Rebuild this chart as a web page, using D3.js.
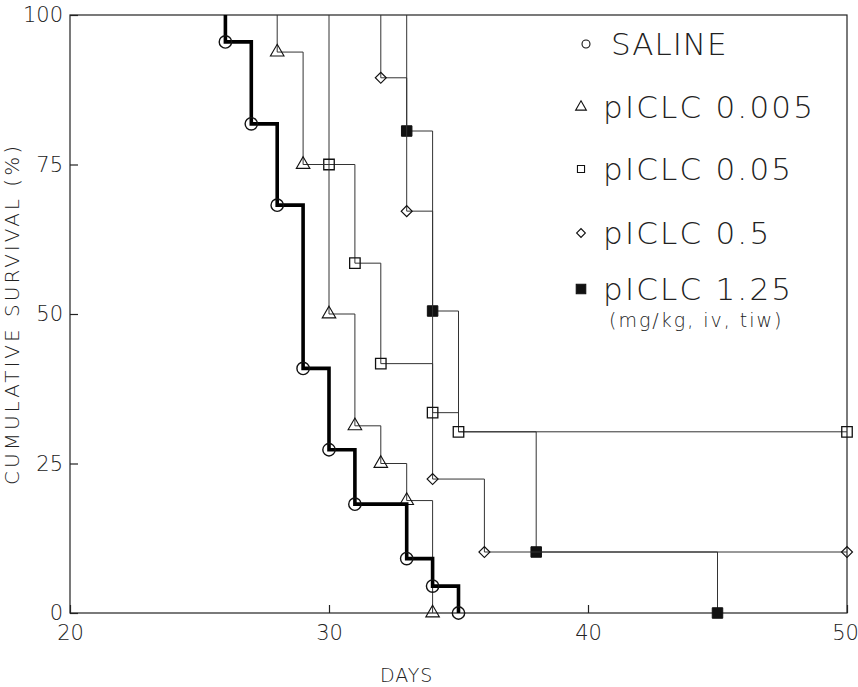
<!DOCTYPE html>
<html>
<head>
<meta charset="utf-8">
<script src="https://cdn.jsdelivr.net/npm/d3@7"></script>
<style>
  body { margin: 0; background: #fff; }
  text { font-family: 'DejaVu Sans', sans-serif; font-stretch: condensed; fill: #222; }
</style>
</head>
<body>
<script>
// survival data (day, cumulative survival %)
const salineDays = [26, 27, 28, 29, 30, 31, 33, 34, 35];
const salineSurv = [95.5, 81.8, 68.2, 40.9, 27.3, 18.2, 9.1, 4.5, 0];

const p005Days = [28, 29, 30, 31, 32, 33, 34];
const p005Surv = [93.8, 75, 50, 31.3, 25, 18.8, 0];

const p05Days = [30, 31, 32, 34, 35, 50];
const p05Surv = [75, 58.5, 41.7, 33.5, 30.3, 30.3];

const p5Days = [32, 33, 34, 36, 50];
const p5Surv = [89.5, 67.2, 22.4, 10.2, 10.2];

const p125Days = [33, 34, 35, 38, 45];
const p125Surv = [80.6, 50.5, 30.3, 10.2, 0];
const p125Marked = [true, true, false, true, true];

const xTicks = [20, 30, 40, 50];
const yTicks = [0, 25, 50, 75, 100];

const legendLabels = ['SALINE', 'pICLC 0.005', 'pICLC 0.05', 'pICLC 0.5', 'pICLC 1.25'];

const margin = { top: 15, right: 11, bottom: 74, left: 70 },
  width = 858 - margin.left - margin.right,
  height = 687 - margin.top - margin.bottom;

const svg = d3.select('body').append('svg')
  .attr('width', 858)
  .attr('height', 687)
  .append('g')
  .attr('transform', `translate(${margin.left},${margin.top})`);

const x = d3.scaleLinear().domain([20, 50]).range([0, width]);
const y = d3.scaleLinear().domain([0, 100]).range([height, 0]);

// frame
svg.append('rect')
  .attr('width', width)
  .attr('height', height)
  .attr('fill', 'none')
  .attr('stroke', '#222')
  .attr('stroke-width', 1.2);

// axes with inward ticks
const xAxis = svg.append('g')
  .attr('transform', `translate(0,${height})`)
  .call(d3.axisBottom(x).tickValues(xTicks).tickSizeInner(-8).tickSizeOuter(0).tickPadding(12));
const yAxis = svg.append('g')
  .call(d3.axisLeft(y).tickValues(yTicks).tickSizeInner(-8).tickSizeOuter(0).tickPadding(7));
[xAxis, yAxis].forEach(a => {
  a.select('.domain').remove();
  a.selectAll('line').attr('stroke', '#222').attr('stroke-width', 1.2);
  a.selectAll('text').style('font-size', '21px').attr('fill', '#222')
    .style('font-family', "'DejaVu Sans', sans-serif").style('font-stretch', 'condensed')
    .style('font-weight', 200);
});
// keep the last x label inside the window
xAxis.selectAll('.tick text').filter(d => d === 50).attr('dx', '-2px');

svg.append('text')
  .attr('x', x(33))
  .attr('y', height + 69)
  .attr('text-anchor', 'middle')
  .style('font-size', '19px')
  .style('font-weight', 200)
  .style('letter-spacing', '1px')
  .text('DAYS');

svg.append('text')
  .attr('transform', `translate(${-51},${height / 2}) rotate(-90)`)
  .attr('text-anchor', 'middle')
  .style('font-size', '20px')
  .style('font-weight', 200)
  .style('letter-spacing', '3px')
  .text('CUMULATIVE SURVIVAL (%)');

// marker shapes
const shapes = {
  circle: d3.symbol().type(d3.symbolCircle),
  triangle: d3.symbol().type(d3.symbolTriangle),
  square: d3.symbol().type(d3.symbolSquare),
  diamond: d3.symbol().type(d3.symbolSquare)
};
const rot = { diamond: 45 };

const series = [
  { days: p125Days, surv: p125Surv, marked: p125Marked, shape: 'square', size: 110, fill: '#111', lw: 1, ms: 1 },
  { days: p5Days, surv: p5Surv, shape: 'diamond', size: 60, fill: 'none', lw: 1, ms: 1.2 },
  { days: p05Days, surv: p05Surv, shape: 'square', size: 110, fill: 'none', lw: 1, ms: 1.3 },
  { days: p005Days, surv: p005Surv, shape: 'triangle', size: 80, fill: 'none', lw: 1, ms: 1.1 },
  { days: salineDays, surv: salineSurv, shape: 'circle', size: 120, fill: 'none', lw: 3.6, ms: 1.4 }
];

const step = d3.line()
  .x(d => x(d[0]))
  .y(d => y(d[1]))
  .curve(d3.curveStepAfter);

series.forEach(s => {
  const pts = [[s.days[0], 100]].concat(s.days.map((d, i) => [d, s.surv[i]]));
  svg.append('path')
    .datum(pts)
    .attr('fill', 'none')
    .attr('stroke', s.lw > 2 ? '#000' : '#333')
    .attr('stroke-width', s.lw)
    .attr('d', step);

  svg.selectAll(null)
    .data(s.days.map((d, i) => ({ d, v: s.surv[i], m: s.marked ? s.marked[i] : true })).filter(p => p.m))
    .enter().append('path')
    .attr('transform', p => `translate(${x(p.d)},${y(p.v)}) rotate(${rot[s.shape] || 0})`)
    .attr('d', shapes[s.shape].size(s.size))
    .attr('fill', s.fill)
    .attr('stroke', '#111')
    .attr('stroke-width', s.ms);
});

// legend
const legendShapes = ['circle', 'triangle', 'square', 'diamond', 'square'];
const legendY = [29, 92, 154, 218, 274];
const legend = svg.append('g').attr('transform', 'translate(511,0)');
legendLabels.forEach((lab, i) => {
  legend.append('path')
    .attr('transform', `translate(${i === 0 ? 5 : 0},${legendY[i]}) rotate(${rot[legendShapes[i]] || 0})`)
    .attr('d', shapes[legendShapes[i]].size(i === 4 ? 90 : (i === 3 ? 38 : 50)))
    .attr('fill', i === 4 ? '#111' : 'none')
    .attr('stroke', '#111')
    .attr('stroke-width', 1.1);
  legend.append('text')
    .attr('x', i === 0 ? 30 : 22)
    .attr('y', legendY[i])
    .attr('dy', '0.36em')
    .style('font-size', '31px')
    .style('font-weight', 200)
    .style('letter-spacing', i === 0 ? '1px' : '2.2px')
    .text(lab);
});
legend.append('text')
  .attr('x', 28)
  .attr('y', 305)
  .attr('dy', '0.36em')
  .style('font-size', '19px')
  .style('font-weight', 200)
  .style('letter-spacing', '2px')
  .text('(mg/kg, iv, tiw)');
</script>
</body>
</html>
